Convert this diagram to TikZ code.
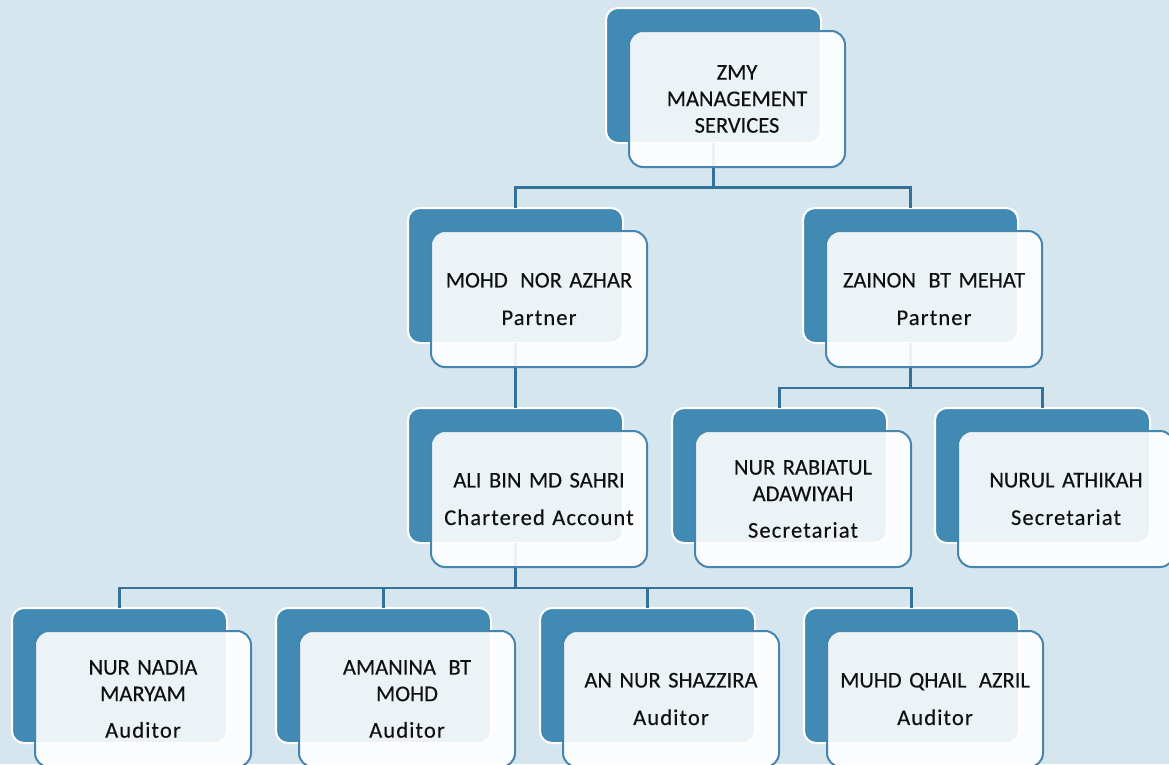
\documentclass[tikz,border=0pt]{standalone}
\usepackage{fontspec}
\setmainfont{Carlito}
\definecolor{bgblue}{HTML}{D6E6EF}
\definecolor{dkblue}{HTML}{418AB3}
\definecolor{lnblue}{HTML}{34729A}
\definecolor{bdblue}{HTML}{4686AE}
\definecolor{txt}{HTML}{101010}
\newcommand\role[1]{{\addfontfeature{LetterSpace=5}#1}}
\newcommand\wsp{\hspace{0.22em}}
\tikzset{
  backbox/.style={anchor=north west, minimum width=215pt, minimum height=135pt,
    rounded corners=12pt, fill=dkblue, draw=white, line width=2pt, inner sep=0pt, outer sep=0pt},
  frontbox/.style={anchor=north west, minimum width=216pt, minimum height=136pt,
    rounded corners=14pt, fill=white, fill opacity=0.9, text opacity=1,
    draw=bdblue, line width=2pt, align=center, text width=205pt, inner sep=0pt, outer sep=0pt,
    text=txt, font=\fontsize{22.5}{26.5}\selectfont\addfontfeature{FakeBold=0.3}},
  conn/.style={draw=lnblue, line width=2.2pt}
}
\begin{document}
\begin{tikzpicture}[x=1pt,y=-1pt]
\fill[bgblue] (0,0) rectangle (1169,764);
\useasboundingbox (0,0) rectangle (1169,764);
\clip (0,0) rectangle (1169,764);
% back boxes
\node[backbox] (zmy-b) at (606,8) {};
\node[backbox] (mohd-b) at (408,208) {};
\node[backbox] (zainon-b) at (803,208) {};
\node[backbox] (ali-b) at (408,408) {};
\node[backbox] (rab-b) at (672,408) {};
\node[backbox] (nurul-b) at (935,408) {};
\node[backbox] (nadia-b) at (12,608) {};
\node[backbox] (amanina-b) at (276,608) {};
\node[backbox] (annur-b) at (540,608) {};
\node[backbox] (muhd-b) at (804,608) {};
% connectors
\draw[conn] (zmy-b.south) -- ++(0,44.5) coordinate (bus1);
\draw[conn] (bus1) -| (mohd-b.north);
\draw[conn] (bus1) -| (zainon-b.north);
\draw[conn] (mohd-b.south) -- (ali-b.north);
\draw[conn] (zainon-b.south) -- ++(0,45) coordinate (bus2);
\draw[conn] (bus2) -| (rab-b.north);
\draw[conn] (bus2) -| (nurul-b.north);
\draw[conn] (ali-b.south) -- ++(0,45) coordinate (bus3);
\draw[conn] (bus3) -| (nadia-b.north);
\draw[conn] (bus3) -| (amanina-b.north);
\draw[conn] (bus3) -| (annur-b.north);
\draw[conn] (bus3) -| (muhd-b.north);
% front boxes
\node[frontbox] (zmy) at (629,31) {ZMY\\MANAGEMENT\\SERVICES};
\node[frontbox] (mohd) at (431,231) {MOHD\wsp{} NOR AZHAR\\[11pt]\role{Partner}};
\node[frontbox] (zainon) at (826,231) {ZAINON\wsp{} BT MEHAT\\[11pt]\role{Partner}};
\node[frontbox] (ali) at (431,431) {ALI BIN MD SAHRI\\[11pt]\role{Chartered Account}};
\node[frontbox] (rab) at (695,431) {NUR RABIATUL\\ADAWIYAH\\[10pt]\role{Secretariat}};
\node[frontbox] (nurul) at (958,431) {NURUL ATHIKAH\\[11pt]\role{Secretariat}};
\node[frontbox] (nadia) at (35,631) {NUR NADIA\\MARYAM\\[10pt]\role{Auditor}};
\node[frontbox] (amanina) at (299,631) {AMANINA\wsp{} BT\\MOHD\\[10pt]\role{Auditor}};
\node[frontbox] (annur) at (563,631) {AN NUR SHAZZIRA\\[11pt]\role{Auditor}};
\node[frontbox] (muhd) at (827,631) {MUHD QHAIL\wsp{} AZRIL\\[11pt]\role{Auditor}};
\end{tikzpicture}
\end{document}
